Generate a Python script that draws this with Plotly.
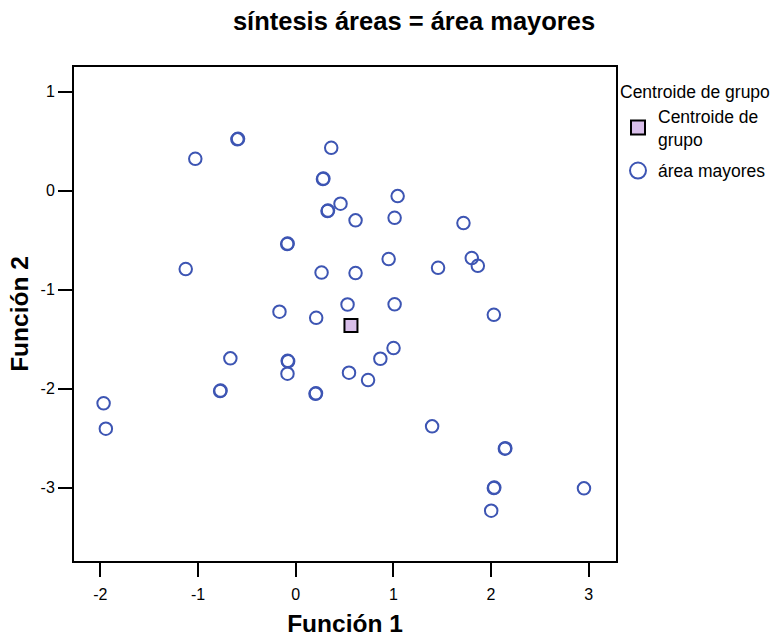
import plotly.graph_objects as go

# Data
func1 = [-0.597, -0.590, -1.028, 0.364, 0.279, 0.284, 0.459, 0.326, 0.331, 0.613, 1.044, 1.013,
         1.718, -0.087, -0.082, -1.126, 0.265, 0.613, 0.952, 1.458, 1.803, 1.865, -0.166,
         0.210, 0.531, 1.013, 2.029, -0.669, -0.077, -0.082, -0.084, -0.774, -0.769, 0.203,
         0.208, 0.546, 0.741, 0.867, 1.002, -1.967, -1.944, 1.397, 2.142, 2.147, 2.029,
         2.034, 2.002, 2.952]
func2 = [0.519, 0.524, 0.323, 0.434, 0.118, 0.123, -0.131, -0.205, -0.200, -0.299, -0.054, -0.273,
         -0.326, -0.538, -0.533, -0.791, -0.826, -0.831, -0.690, -0.778, -0.680, -0.758, -1.222,
         -1.283, -1.149, -1.147, -1.253, -1.693, -1.723, -1.718, -1.848, -2.023, -2.018, -2.051,
         -2.046, -1.838, -1.912, -1.697, -1.589, -2.147, -2.404, -2.380, -2.606, -2.601, -3.003,
         -2.998, -3.232, -3.006]
centroid_f1 = [0.566]
centroid_f2 = [-1.360]

x_ticks = [-2, -1, 0, 1, 2, 3]
x_tick_labels = ["-2", "-1", "0", "1", "2", "3"]
y_ticks = [1, 0, -1, -2, -3]
y_tick_labels = ["1", "0", "-1", "-2", "-3"]

title_text = "síntesis áreas = área mayores"
group_label = "área mayores"
centroid_label = "Centroide de<br>grupo"
legend_title = "Centroide de grupo"

FONT = "Arial, Liberation Sans, sans-serif"
BLUE = "#3d55b3"
LILAC = "#d9bfea"

W, H = 779, 637
ML, MR, MT, MB = 74, 0, 67, 10
PLOT_RIGHT = 616
PLOT_BOTTOM = 561
paper_w = W - ML - MR
paper_h = H - MT - MB

fig = go.Figure()
# actual marks (hidden from legend)
fig.add_trace(go.Scatter(
    x=func1, y=func2, mode="markers", name=group_label, showlegend=False,
    marker=dict(symbol="circle-open", size=12.5, color=BLUE,
                line=dict(color=BLUE, width=2)),
))
fig.add_trace(go.Scatter(
    x=centroid_f1, y=centroid_f2, mode="markers", name=centroid_label, showlegend=False,
    marker=dict(symbol="square", size=13, color=LILAC,
                line=dict(color="black", width=2)),
))
# legend entries
fig.add_trace(go.Scatter(
    x=[None], y=[None], mode="markers", name=centroid_label, legendgroup="a",
    marker=dict(symbol="square", size=14, color=LILAC,
                line=dict(color="black", width=2)),
))
fig.add_trace(go.Scatter(
    x=[None], y=[None], mode="markers", name=group_label, legendgroup="b",
    marker=dict(symbol="circle-open", size=20, color=BLUE,
                line=dict(color=BLUE, width=2)),
))

axis_common = dict(
    showline=True, linecolor="black", linewidth=2, mirror=True,
    ticks="outside", ticklen=14, tickwidth=2, tickcolor="black",
    showgrid=False, zeroline=False,
    tickfont=dict(family=FONT, size=16, color="black"),
)

fig.update_layout(
    width=W, height=H,
    margin=dict(l=ML, r=MR, t=MT, b=MB),
    paper_bgcolor="white", plot_bgcolor="white",
    font=dict(family=FONT, color="black"),
    title=dict(text="<b>" + title_text + "</b>", x=414 / W, xanchor="center",
               y=1 - 21 / H, yanchor="middle",
               font=dict(family=FONT, size=25.5, color="black")),
    xaxis=dict(domain=[0, (PLOT_RIGHT - ML) / paper_w],
               range=[-2.27, 3.28], tickvals=x_ticks, ticktext=x_tick_labels,
               ticklabelstandoff=4,
               title=dict(text="<b>Función 1</b>", font=dict(family=FONT, size=24.5), standoff=14),
               **axis_common),
    yaxis=dict(domain=[(H - MB - PLOT_BOTTOM) / paper_h, 1],
               range=[-3.74, 1.25], tickvals=y_ticks, ticktext=y_tick_labels,
               title=dict(text="<b>Función 2</b>", font=dict(family=FONT, size=24.5), standoff=5),
               **axis_common),
    legend=dict(x=(618 - ML) / paper_w, xanchor="left", y=0.985, yanchor="top",
                title=dict(text=legend_title, font=dict(family=FONT, size=17.5)),
                font=dict(family=FONT, size=17.5, color="black"),
                bgcolor="rgba(0,0,0,0)", itemsizing="trace", tracegroupgap=6),
    showlegend=True,
)

fig.write_html("out.html")
